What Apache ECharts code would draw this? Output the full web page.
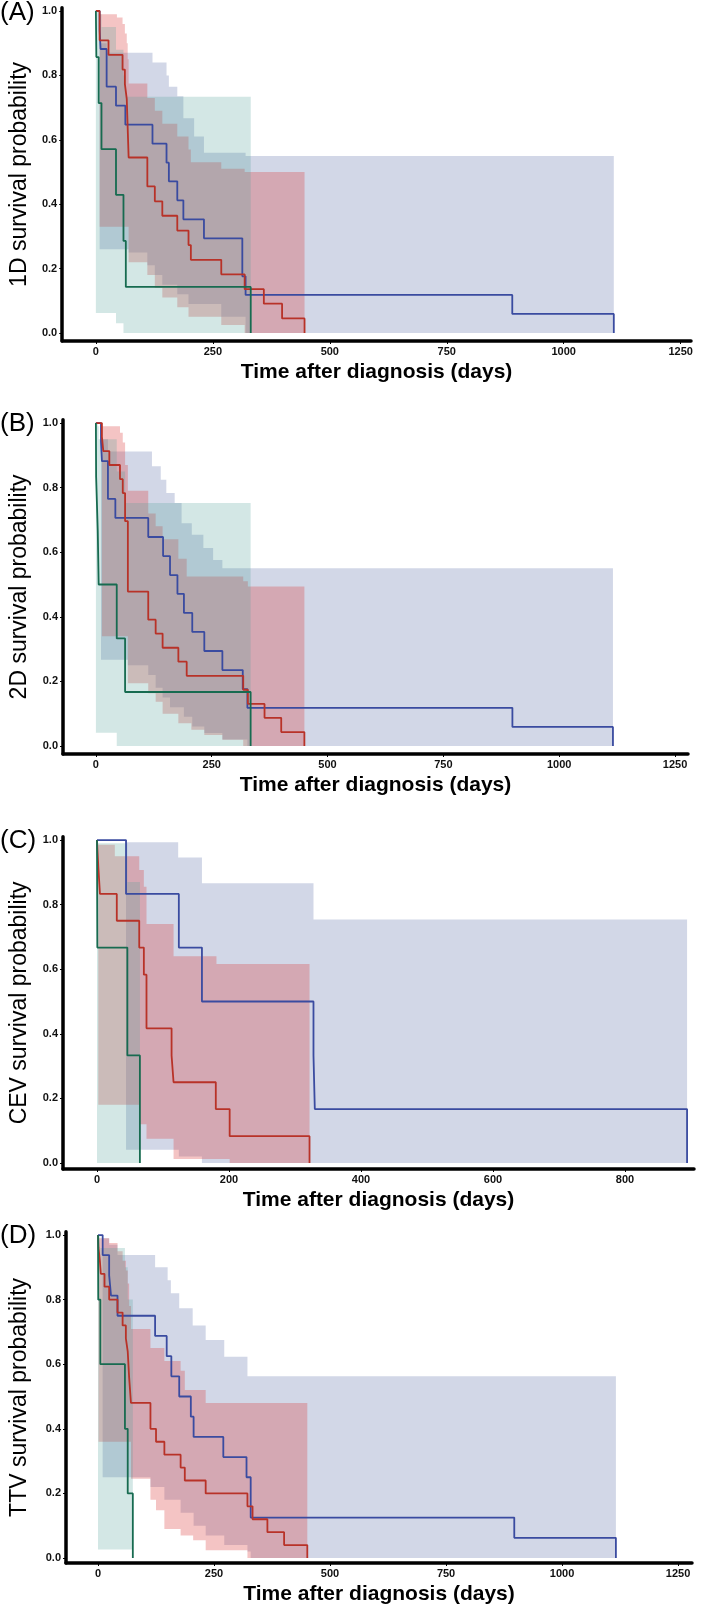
<!DOCTYPE html>
<html><head><meta charset="utf-8">
<script src="https://cdn.jsdelivr.net/npm/echarts@6/dist/echarts.min.js"></script>
<style>html,body{margin:0;padding:0;background:#fff}#c{width:709px;height:1613px}</style>
</head><body><div id="c"></div>
<script>
// ---------- DATA (days, survival probability) ----------
// Kaplan-Meier step curves: [time, S(t)]; S holds until the next time.
const A_blue  = [[0,1],[8,0.941],[10,0.882],[23,0.765],[43,0.706],[63,0.647],[121,0.588],[151,0.529],[156,0.471],[174,0.412],[187,0.353],[231,0.294],[313,0.176],[320,0.118],[890,0.059],[1107,0]];
const A_red   = [[0,1],[8,0.909],[27,0.864],[57,0.818],[62,0.773],[66,0.727],[68,0.636],[70,0.545],[110,0.455],[126,0.409],[142,0.364],[174,0.318],[198,0.273],[203,0.227],[268,0.182],[318,0.136],[359,0.091],[398,0.045],[446,0]];
const A_green = [[0,1],[1,0.857],[6,0.714],[12,0.571],[43,0.429],[59,0.286],[64,0.143],[331,0]];
// confidence limits (step functions, last entry = end of band)
const A_blueUpper  = [[8,0.96],[10,0.9],[23,0.87],[121,0.84],[151,0.8],[156,0.765],[174,0.735],[187,0.667],[210,0.61],[231,0.56],[320,0.55],[1107,0.55]];
const A_blueLower  = [[8,0.26],[70,0.25],[110,0.21],[126,0.18],[142,0.15],[174,0.12],[198,0.09],[268,0.05],[320,0],[1107,0]];
const A_redUpper   = [[8,0.99],[45,0.98],[57,0.96],[62,0.93],[66,0.9],[68,0.85],[70,0.775],[110,0.73],[126,0.69],[142,0.65],[174,0.61],[198,0.57],[203,0.53],[268,0.51],[318,0.5],[446,0.5]];
const A_redLower   = [[8,0.33],[70,0.22],[110,0.18],[126,0.14],[142,0.11],[174,0.08],[198,0.05],[268,0.025],[318,0],[446,0]];
const A_greenUpper = [[0,1],[6,0.99],[12,0.95],[43,0.88],[59,0.8],[64,0.734],[331,0.734]];
const A_greenLower = [[0,0.062],[43,0.03],[59,0],[331,0]];

const B_blue  = [[0,1],[11,0.941],[13,0.882],[26,0.765],[42,0.706],[113,0.647],[145,0.588],[160,0.529],[176,0.471],[190,0.412],[208,0.353],[234,0.294],[273,0.235],[317,0.176],[327,0.118],[899,0.059],[1116,0]];
const B_red   = [[0,1],[13,0.957],[16,0.913],[29,0.870],[52,0.826],[58,0.783],[63,0.696],[69,0.478],[113,0.391],[129,0.348],[144,0.304],[178,0.261],[196,0.217],[318,0.174],[328,0.130],[364,0.087],[400,0.043],[450,0]];
const B_green = [[0,1],[0.5,0.833],[4,0.667],[6,0.5],[45,0.333],[63,0.167],[334,0]];
const B_blueUpper  = [[11,0.99],[13,0.95],[26,0.912],[121,0.866],[140,0.824],[152,0.783],[170,0.752],[185,0.69],[207,0.654],[232,0.613],[253,0.576],[273,0.55],[1116,0.55]];
const B_blueLower  = [[11,0.267],[69,0.25],[113,0.22],[129,0.18],[144,0.15],[160,0.12],[190,0.09],[208,0.06],[234,0.04],[273,0.02],[327,0],[1116,0]];
const B_redUpper   = [[13,0.99],[52,0.97],[58,0.94],[63,0.87],[69,0.79],[113,0.72],[129,0.68],[144,0.64],[178,0.58],[196,0.525],[318,0.51],[328,0.494],[450,0.494]];
const B_redLower   = [[13,0.34],[69,0.194],[113,0.163],[129,0.137],[144,0.1],[178,0.07],[206,0.05],[234,0.034],[273,0.019],[318,0],[450,0]];
const B_greenUpper = [[0,1],[4,0.99],[6,0.95],[45,0.85],[63,0.752],[334,0.752]];
const B_greenLower = [[0,0.041],[45,0],[334,0]];

const C_blue  = [[0,1],[44,0.833],[124,0.667],[159,0.5],[328,0.333],[330,0.167],[894,0]];
const C_red   = [[0,1],[2,0.917],[4.5,0.833],[30,0.75],[64,0.667],[71,0.583],[75,0.417],[113,0.333],[116,0.25],[180,0.167],[201,0.083],[322,0]];
const C_green = [[0,1],[0.5,0.667],[46,0.333],[65,0]];
const C_blueUpper  = [[44,0.993],[123,0.946],[159,0.866],[328,0.754],[894,0.754]];
const C_blueLower  = [[44,0.041],[124,0.02],[159,0],[894,0]];
const C_redUpper   = [[2,0.985],[27,0.95],[64,0.907],[71,0.855],[75,0.74],[116,0.64],[181,0.616],[322,0.616]];
const C_redLower   = [[2,0.18],[64,0.12],[75,0.075],[116,0.012],[201,0],[322,0]];
const C_greenUpper = [[0,0.99],[46,0.87],[65,0.87]];
const C_greenLower = [[0,0],[65,0]];

const D_blue  = [[0,1],[10,0.938],[24,0.875],[28,0.8125],[42,0.75],[123,0.6875],[148,0.625],[158,0.5625],[175,0.5],[200,0.4375],[206,0.375],[270,0.3125],[320,0.25],[329,0.125],[897,0.0625],[1116,0]];
const D_red   = [[0,1],[1,0.96],[4,0.92],[6,0.88],[14,0.84],[24,0.80],[42,0.76],[53,0.72],[60,0.68],[64,0.64],[67,0.56],[71,0.48],[113,0.40],[125,0.36],[143,0.32],[178,0.28],[187,0.24],[232,0.20],[322,0.16],[333,0.12],[365,0.08],[401,0.04],[451,0]];
const D_green = [[0,1],[0.5,0.8],[5,0.6],[58,0.4],[64,0.2],[75,0]];
const D_blueUpper  = [[10,0.99],[24,0.97],[42,0.938],[123,0.9],[150,0.86],[157,0.82],[175,0.773],[204,0.72],[232,0.675],[272,0.623],[322,0.563],[1116,0.563]];
const D_blueLower  = [[10,0.25],[113,0.22],[143,0.18],[178,0.14],[206,0.1],[232,0.07],[272,0.04],[322,0.02],[329,0],[1116,0]];
const D_redUpper   = [[1,0.99],[24,0.975],[42,0.95],[53,0.92],[60,0.89],[64,0.85],[67,0.78],[71,0.709],[113,0.65],[143,0.61],[178,0.58],[187,0.52],[232,0.48],[451,0.48]];
const D_redLower   = [[1,0.36],[71,0.245],[113,0.18],[125,0.148],[143,0.09],[178,0.07],[205,0.055],[232,0.024],[322,0],[451,0]];
const D_greenUpper = [[0,1],[5,0.96],[58,0.9],[64,0.8],[75,0.8]];
const D_greenLower = [[0,0.026],[75,0.026]];

const yTickValues = [0, 0.2, 0.4, 0.6, 0.8, 1.0];
const xTicksDays  = [0, 250, 500, 750, 1000, 1250];
const xTicksCEV   = [0, 200, 400, 600, 800];
const panelLetters = ['(A)', '(B)', '(C)', '(D)'];
const yTitles = ['1D survival probability', '2D survival probability', 'CEV survival probability', 'TTV survival probability'];
const xTitle = 'Time after diagnosis (days)';

// ---------- LAYOUT / STYLE ----------
const FONT = '"Liberation Sans", Arial, Helvetica, sans-serif';
const COLORS = {
  blue:  {line: '#3a4ba0', band: 'rgba(74,95,158,0.25)'},
  red:   {line: '#b83228', band: 'rgba(220,60,60,0.30)'},
  green: {line: '#176b50', band: 'rgba(80,160,150,0.25)'}
};
const layout = [
  {grid:{left:61, top:7.8,   width:630, height:333.2}, x:[-72,1272],   y:[-0.025,1.01],  ticks:xTicksDays, yGap:31},
  {grid:{left:61, top:419.8, width:627, height:334.2}, x:[-71,1278],   y:[-0.025,1.01],  ticks:xTicksDays, yGap:32},
  {grid:{left:63, top:836.8, width:631, height:332.2}, x:[-51.5,904.5],y:[-0.0186,1.01], ticks:xTicksCEV,  yGap:31.5},
  {grid:{left:65, top:1231.8,width:627, height:331.2}, x:[-69,1280],   y:[-0.0155,1.01], ticks:xTicksDays, yGap:35}
];
const panelData = [
  {blue:A_blue, red:A_red, green:A_green, bands:{blue:[A_blueUpper,A_blueLower], red:[A_redUpper,A_redLower], green:[A_greenUpper,A_greenLower]}},
  {blue:B_blue, red:B_red, green:B_green, bands:{blue:[B_blueUpper,B_blueLower], red:[B_redUpper,B_redLower], green:[B_greenUpper,B_greenLower]}},
  {blue:C_blue, red:C_red, green:C_green, bands:{blue:[C_blueUpper,C_blueLower], red:[C_redUpper,C_redLower], green:[C_greenUpper,C_greenLower]}},
  {blue:D_blue, red:D_red, green:D_green, bands:{blue:[D_blueUpper,D_blueLower], red:[D_redUpper,D_redLower], green:[D_greenUpper,D_greenLower]}}
];

function stepPath(arr) {
  const out = [];
  for (let i = 0; i < arr.length; i++) {
    if (i > 0) out.push([arr[i][0], arr[i-1][1]]);
    out.push([arr[i][0], arr[i][1]]);
  }
  return out;
}
function bandSeries(p, upper, lower, fill) {
  return {
    type: 'custom', xAxisIndex: p, yAxisIndex: p, clip: true, silent: true, z: 1,
    data: [[0, 0]],
    renderItem: function (params, api) {
      const up = stepPath(upper);
      const lo = stepPath(lower).reverse();
      const pts = up.concat(lo).map(d => api.coord(d));
      return {type: 'polygon', shape: {points: pts}, style: {fill: fill}};
    }
  };
}
function lineSeries(p, data, color) {
  return {
    type: 'line', xAxisIndex: p, yAxisIndex: p, step: 'end', data: data,
    symbol: 'none', showSymbol: false, silent: true, z: 3, clip: true,
    lineStyle: {color: color, width: 1.8}
  };
}

const grids = [], xAxes = [], yAxes = [], series = [], graphics = [];
layout.forEach((L, p) => {
  grids.push(Object.assign({containLabel: false}, L.grid));
  xAxes.push({
    gridIndex: p, type: 'value', min: L.x[0], max: L.x[1],
    axisLine: {show: true, onZero: false, lineStyle: {color: '#000', width: 3.5}},
    axisTick: {show: true, length: 3, customValues: L.ticks, lineStyle: {color: '#000', width: 1}},
    axisLabel: {customValues: L.ticks, formatter: v => String(v), color: '#111', fontWeight: 'bold', fontSize: 11, margin: 5, fontFamily: FONT},
    splitLine: {show: false},
    name: xTitle, nameLocation: 'middle', nameGap: 21,
    nameTextStyle: {fontSize: 21, fontWeight: 'bold', color: '#000', fontFamily: FONT}
  });
  yAxes.push({
    gridIndex: p, type: 'value', min: L.y[0], max: L.y[1],
    axisLine: {show: true, onZero: false, lineStyle: {color: '#000', width: 3.5}},
    axisTick: {show: true, length: 3, customValues: yTickValues, lineStyle: {color: '#000', width: 1}},
    axisLabel: {customValues: yTickValues, formatter: v => v.toFixed(1), color: '#111', fontWeight: 'bold', fontSize: 11, margin: 5, fontFamily: FONT},
    splitLine: {show: false},
    name: yTitles[p], nameLocation: 'middle', nameGap: L.yGap,
    nameTextStyle: {fontSize: 23, color: '#000', fontFamily: FONT}
  });
  const d = panelData[p];
  ['blue', 'red', 'green'].forEach(g => {
    series.push(bandSeries(p, d.bands[g][0], d.bands[g][1], COLORS[g].band));
  });
  ['blue', 'red', 'green'].forEach(g => {
    series.push(lineSeries(p, d[g], COLORS[g].line));
  });
  const yTop = L.grid.top + (L.y[1] - 1) / (L.y[1] - L.y[0]) * L.grid.height;
  graphics.push({
    type: 'text', left: 0, top: Math.max(0, yTop - 12),
    style: {text: panelLetters[p], fontSize: 26, fill: '#000', fontFamily: FONT}
  });
});

const chart = echarts.init(document.getElementById('c'), null, {renderer: 'canvas'});
chart.setOption({
  animation: false,
  backgroundColor: '#fff',
  grid: grids, xAxis: xAxes, yAxis: yAxes, series: series, graphic: graphics
});
</script></body></html>
